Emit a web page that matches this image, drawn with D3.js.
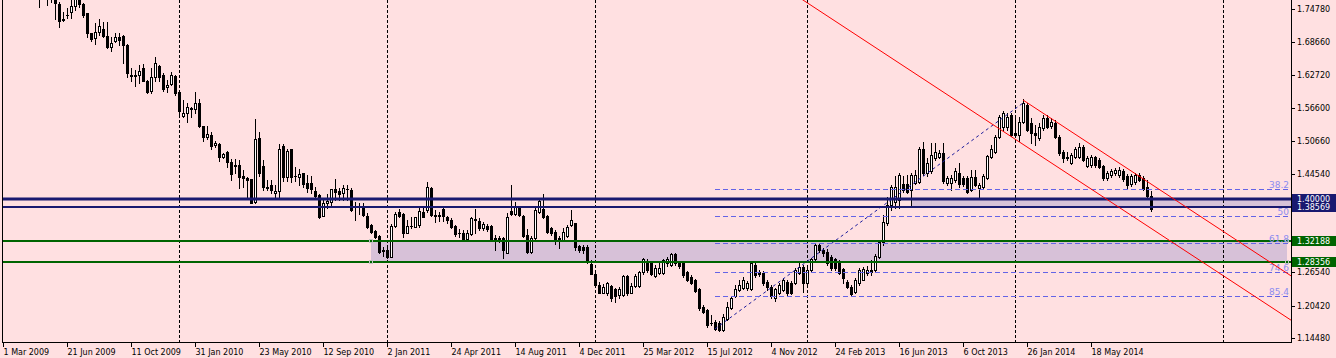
<!DOCTYPE html>
<html>
<head>
<meta charset="utf-8">
<script src="https://cdn.jsdelivr.net/npm/d3@7"></script>
<style>
  body { margin: 0; background: #ffe0e1; }
  svg { display: block; font-family: "DejaVu Sans", sans-serif; font-size: 8px; }
</style>
</head>
<body>
<script>
// weekly candles, one row per week: [open, high, low, close]
var firstWeek = "2009-03-01";

var candles2009 = [
  [1.962,1.985,1.905,1.925],[1.925,1.950,1.890,1.915],[1.915,1.935,1.860,1.880],[1.880,1.912,1.870,1.905],
  [1.905,1.925,1.880,1.890],[1.890,1.900,1.842,1.850],[1.850,1.872,1.826,1.835],[1.835,1.850,1.805,1.815],
  [1.815,1.832,1.790,1.800],[1.800,1.815,1.751,1.780],[1.780,1.800,1.768,1.790],[1.790,1.805,1.755,1.775],
  [1.775,1.790,1.761,1.770],[1.770,1.782,1.729,1.759],[1.757,1.761,1.714,1.725],[1.729,1.743,1.726,1.728],
  [1.737,1.749,1.731,1.736],[1.743,1.764,1.731,1.753],[1.753,1.772,1.746,1.766],[1.766,1.770,1.751,1.757],
  [1.757,1.759,1.734,1.737],[1.740,1.741,1.697,1.704],[1.703,1.704,1.690,1.692],[1.695,1.723,1.684,1.705],
  [1.706,1.729,1.700,1.717],[1.711,1.724,1.696,1.698],[1.698,1.724,1.676,1.679],[1.678,1.696,1.670,1.686],
  [1.690,1.703,1.688,1.696],[1.696,1.703,1.682,1.691],[1.698,1.700,1.649,1.682],[1.682,1.684,1.624,1.630],
  [1.626,1.639,1.615,1.625],[1.625,1.636,1.607,1.627],[1.626,1.645,1.612,1.634],[1.639,1.647,1.615,1.616],
  [1.615,1.618,1.593,1.596],[1.598,1.639,1.593,1.623],[1.623,1.660,1.615,1.649],[1.643,1.645,1.615,1.623],
  [1.627,1.630,1.598,1.602],[1.604,1.618,1.596,1.609],[1.610,1.633,1.609,1.626],[1.625,1.626,1.590,1.594]
];
var candles2010 = [
  [1.596,1.599,1.549,1.560],[1.552,1.581,1.549,1.557],[1.557,1.575,1.540,1.569],[1.565,1.569,1.550,1.566],
  [1.564,1.596,1.557,1.575],[1.575,1.582,1.532,1.533],[1.533,1.534,1.505,1.513],[1.513,1.533,1.509,1.518],
  [1.517,1.523,1.492,1.497],[1.498,1.505,1.495,1.503],[1.500,1.503,1.469,1.476],[1.477,1.484,1.474,1.482],
  [1.486,1.487,1.459,1.468],[1.467,1.472,1.434,1.445],[1.461,1.472,1.447,1.460],[1.461,1.471,1.419,1.440],
  [1.442,1.453,1.421,1.438],[1.438,1.439,1.404,1.434],[1.436,1.437,1.392,1.393],[1.395,1.546,1.393,1.509],
  [1.511,1.523,1.442,1.447],[1.460,1.471,1.416,1.422],[1.422,1.434,1.416,1.420],[1.425,1.434,1.410,1.416],
  [1.410,1.425,1.404,1.415],[1.415,1.500,1.404,1.492],[1.497,1.500,1.433,1.439],[1.440,1.491,1.433,1.488],
  [1.491,1.492,1.431,1.439],[1.442,1.459,1.433,1.441],[1.439,1.454,1.425,1.445],[1.447,1.448,1.422,1.427],
  [1.428,1.444,1.413,1.419],[1.428,1.442,1.410,1.417],[1.414,1.421,1.403,1.405],[1.407,1.409,1.364,1.366],
  [1.369,1.398,1.368,1.392],[1.392,1.409,1.384,1.396],[1.395,1.418,1.389,1.417],[1.417,1.436,1.398,1.413],
  [1.414,1.419,1.398,1.409],[1.410,1.425,1.398,1.419],[1.418,1.425,1.398,1.417],[1.416,1.419,1.378,1.379],
  [1.386,1.395,1.361,1.387],[1.386,1.392,1.372,1.385],[1.385,1.392,1.369,1.370],[1.368,1.374,1.346,1.349],
  [1.352,1.354,1.337,1.340],[1.341,1.343,1.328,1.330],[1.332,1.333,1.300,1.303],[1.306,1.312,1.295,1.305]
];
var candles2011 = [
  [1.306,1.312,1.291,1.294],[1.294,1.353,1.293,1.350],[1.350,1.376,1.349,1.373],[1.376,1.382,1.367,1.368],
  [1.373,1.374,1.330,1.338],[1.338,1.361,1.337,1.350],[1.350,1.367,1.346,1.351],[1.349,1.367,1.348,1.366],
  [1.352,1.385,1.349,1.378],[1.376,1.383,1.366,1.367],[1.379,1.431,1.376,1.422],[1.419,1.422,1.368,1.370],
  [1.370,1.379,1.358,1.369],[1.370,1.376,1.360,1.369],[1.382,1.384,1.360,1.368],[1.367,1.368,1.356,1.362],
  [1.362,1.364,1.346,1.349],[1.350,1.352,1.332,1.335],[1.338,1.344,1.330,1.337],[1.338,1.343,1.323,1.324],
  [1.326,1.343,1.324,1.338],[1.335,1.367,1.334,1.364],[1.362,1.382,1.337,1.363],[1.360,1.365,1.343,1.346],
  [1.346,1.357,1.343,1.353],[1.350,1.354,1.341,1.344],[1.350,1.352,1.323,1.324],[1.328,1.334,1.307,1.323],
  [1.328,1.332,1.321,1.323],[1.328,1.330,1.291,1.306],[1.301,1.374,1.300,1.366],[1.378,1.425,1.370,1.373],
  [1.373,1.395,1.370,1.385],[1.385,1.387,1.368,1.370],[1.368,1.370,1.330,1.332],[1.334,1.344,1.301,1.303],
  [1.303,1.332,1.301,1.328],[1.328,1.383,1.326,1.379],[1.376,1.399,1.374,1.396],[1.381,1.409,1.365,1.367],
  [1.368,1.370,1.337,1.340],[1.346,1.348,1.334,1.337],[1.340,1.343,1.317,1.323],[1.328,1.332,1.309,1.323],
  [1.324,1.346,1.323,1.340],[1.332,1.352,1.330,1.348],[1.352,1.379,1.350,1.362],[1.355,1.356,1.306,1.311],
  [1.313,1.315,1.302,1.307],[1.311,1.315,1.300,1.306],[1.312,1.315,1.283,1.285],[1.280,1.288,1.262,1.263]
];
var candles2012 = [
  [1.263,1.266,1.239,1.242],[1.242,1.248,1.227,1.228],[1.228,1.244,1.227,1.239],[1.228,1.248,1.224,1.246],
  [1.240,1.242,1.213,1.218],[1.234,1.236,1.211,1.221],[1.224,1.239,1.218,1.234],[1.224,1.260,1.222,1.258],
  [1.258,1.260,1.224,1.227],[1.228,1.246,1.227,1.240],[1.240,1.263,1.238,1.258],[1.240,1.268,1.238,1.266],
  [1.266,1.291,1.263,1.289],[1.286,1.289,1.266,1.269],[1.282,1.284,1.260,1.262],[1.258,1.279,1.257,1.274],
  [1.264,1.282,1.263,1.274],[1.264,1.290,1.263,1.288],[1.282,1.294,1.277,1.289],[1.279,1.301,1.277,1.299],
  [1.299,1.301,1.279,1.282],[1.283,1.286,1.273,1.277],[1.283,1.284,1.257,1.260],[1.266,1.268,1.249,1.252],
  [1.257,1.260,1.244,1.246],[1.251,1.253,1.229,1.231],[1.234,1.236,1.196,1.199],[1.202,1.205,1.191,1.193],
  [1.196,1.198,1.165,1.169],[1.173,1.187,1.169,1.172],[1.175,1.178,1.160,1.161],[1.173,1.176,1.157,1.160],
  [1.160,1.189,1.158,1.183],[1.179,1.211,1.178,1.202],[1.199,1.220,1.198,1.218],[1.222,1.242,1.220,1.234],
  [1.233,1.251,1.231,1.242],[1.236,1.257,1.235,1.252],[1.236,1.249,1.233,1.245],[1.234,1.284,1.233,1.282],
  [1.279,1.282,1.257,1.260],[1.266,1.269,1.258,1.263],[1.264,1.268,1.242,1.245],[1.248,1.251,1.233,1.238],
  [1.239,1.242,1.218,1.222],[1.219,1.236,1.213,1.234],[1.227,1.246,1.225,1.242],[1.233,1.255,1.231,1.251],
  [1.248,1.251,1.224,1.227],[1.245,1.249,1.225,1.228],[1.246,1.273,1.244,1.269],[1.264,1.282,1.263,1.275],
  [1.275,1.279,1.230,1.245]
];
var candles2013 = [
  [1.245,1.273,1.242,1.269],[1.269,1.291,1.266,1.289],[1.289,1.319,1.286,1.315],[1.315,1.319,1.302,1.306],
  [1.306,1.310,1.295,1.300],[1.303,1.308,1.279,1.282],[1.294,1.297,1.270,1.273],[1.289,1.291,1.270,1.273],
  [1.285,1.288,1.262,1.264],[1.271,1.273,1.245,1.254],[1.248,1.251,1.236,1.239],[1.239,1.242,1.221,1.225],
  [1.230,1.255,1.227,1.252],[1.245,1.273,1.242,1.269],[1.252,1.275,1.251,1.271],[1.264,1.277,1.260,1.269],
  [1.269,1.288,1.260,1.266],[1.269,1.299,1.266,1.295],[1.294,1.324,1.291,1.321],[1.321,1.370,1.315,1.358],
  [1.355,1.404,1.352,1.389],[1.389,1.425,1.379,1.422],[1.395,1.442,1.383,1.421],[1.398,1.447,1.383,1.444],
  [1.427,1.442,1.412,1.416],[1.427,1.444,1.410,1.413],[1.416,1.447,1.386,1.444],[1.429,1.453,1.427,1.444],
  [1.431,1.495,1.429,1.492],[1.492,1.504,1.444,1.447],[1.447,1.475,1.442,1.466],[1.450,1.502,1.447,1.480],
  [1.475,1.502,1.471,1.486],[1.477,1.489,1.475,1.483],[1.483,1.503,1.429,1.433],[1.428,1.442,1.425,1.438],
  [1.429,1.444,1.416,1.438],[1.434,1.456,1.431,1.450],[1.448,1.465,1.422,1.427],[1.438,1.442,1.423,1.427],
  [1.438,1.442,1.410,1.413],[1.416,1.453,1.414,1.440],[1.440,1.453,1.423,1.425],[1.419,1.429,1.404,1.425],
  [1.421,1.445,1.418,1.442],[1.438,1.480,1.436,1.478],[1.477,1.499,1.475,1.491],[1.486,1.517,1.484,1.514],
  [1.514,1.554,1.511,1.550],[1.531,1.560,1.526,1.557],[1.531,1.557,1.526,1.550],[1.554,1.557,1.515,1.517]
];
var candles2014 = [
  [1.520,1.552,1.513,1.517],[1.517,1.550,1.505,1.541],[1.541,1.582,1.539,1.575],[1.572,1.575,1.524,1.526],
  [1.538,1.548,1.502,1.520],[1.520,1.535,1.499,1.517],[1.511,1.538,1.508,1.532],[1.529,1.554,1.526,1.548],
  [1.548,1.554,1.530,1.532],[1.533,1.548,1.530,1.541],[1.538,1.544,1.511,1.514],[1.514,1.517,1.480,1.483],
  [1.486,1.489,1.468,1.474],[1.477,1.486,1.471,1.474],[1.466,1.484,1.464,1.480],[1.477,1.495,1.475,1.492],
  [1.477,1.502,1.475,1.495],[1.495,1.499,1.469,1.471],[1.460,1.478,1.458,1.474],[1.462,1.480,1.458,1.477],
  [1.476,1.478,1.458,1.462],[1.471,1.475,1.456,1.459],[1.460,1.462,1.434,1.438],[1.438,1.451,1.434,1.447],
  [1.444,1.455,1.440,1.450],[1.447,1.456,1.444,1.453],[1.444,1.458,1.440,1.453],[1.450,1.455,1.433,1.436],
  [1.442,1.445,1.419,1.425],[1.427,1.445,1.423,1.442],[1.430,1.447,1.427,1.444],[1.444,1.447,1.433,1.434],
  [1.438,1.442,1.416,1.417],[1.422,1.434,1.403,1.405],[1.405,1.414,1.378,1.381]
];

// axis labels
var priceTicks = [1.7478, 1.6866, 1.6272, 1.5660, 1.5066, 1.4454, 1.3860, 1.3248, 1.2654, 1.2042, 1.1448];
var dateTicks = ["2009-03-01","2009-06-21","2009-10-11","2010-01-31","2010-05-23","2010-09-12",
  "2011-01-02","2011-04-24","2011-08-14","2011-12-04","2012-03-25","2012-07-15","2012-11-04",
  "2013-02-24","2013-06-16","2013-10-06","2014-01-26","2014-05-18"];

// drawn objects
var blueLevels = [1.40000, 1.38569];
var greenLevels = [1.32188, 1.28356];
var blueZone = ["2013-07-07", 1.40000, 1.38569];
var greenZone = ["2010-12-05", "2015-04-26", 1.32188, 1.28356];
var fibLevels = [38.2, 50, 61.8, 74.6, 85.4];
var fibLow = ["2012-07-29", 1.1615];
var fibHigh = ["2014-01-19", 1.5755];
var channelUpper = [["2014-01-19", 1.5810], ["2014-06-08", 1.4848]];
var channelLower = [["2012-11-25", 1.7883], ["2013-12-15", 1.5238]];

var W = 1336, H = 358;
var pLeft = 3, pRight = 1291, pTop = 0, pBottom = 342;

var parse = d3.utcParse("%Y-%m-%d");
var start = parse(firstWeek);

var candles = [].concat(candles2009, candles2010, candles2011, candles2012, candles2013, candles2014)
  .map(function (d, i) {
    return { date: d3.utcDay.offset(start, 7 * i), o: d[0], h: d[1], l: d[2], c: d[3] };
  });

// 4 px per weekly bar
var xScale = d3.scaleUtc()
  .domain([start, d3.utcDay.offset(start, 7 * 322)])
  .range([pLeft, pLeft + 4 * 322]);
var yScale = d3.scaleLinear().domain([1.1375, 1.7643]).range([pBottom, pTop]);

var svg = d3.select("body").append("svg")
  .attr("width", W)
  .attr("height", H);

svg.append("rect").attr("width", W).attr("height", H).attr("fill", "#ffe0e1");

svg.append("defs").append("clipPath").attr("id", "plot")
  .append("rect")
  .attr("x", pLeft).attr("y", pTop)
  .attr("width", pRight - pLeft).attr("height", pBottom - pTop);

var plot = svg.append("g").attr("clip-path", "url(#plot)");

// zones (background objects)
var zoneFill = "#d7c1d8";
var bx0 = Math.round(xScale(parse(blueZone[0])));
plot.append("rect")
  .attr("x", bx0)
  .attr("y", Math.round(yScale(blueZone[1])))
  .attr("width", pRight - bx0)
  .attr("height", Math.round(yScale(blueZone[2])) - Math.round(yScale(blueZone[1])))
  .attr("fill", zoneFill);

var gx0 = Math.round(xScale(parse(greenZone[0]))),
    gx1 = Math.round(xScale(parse(greenZone[1]))),
    gy0 = Math.round(yScale(greenZone[2])),
    gy1 = Math.round(yScale(greenZone[3]));
plot.append("rect")
  .attr("x", gx0).attr("y", gy0)
  .attr("width", gx1 - gx0).attr("height", gy1 - gy0)
  .attr("fill", zoneFill);

// yearly grid
var years = d3.range(2010, 2016).map(function (yr) { return d3.utcSunday.ceil(new Date(Date.UTC(yr, 0, 1))); });
plot.selectAll(".grid")
  .data(years)
  .enter().append("line")
  .attr("class", "grid")
  .attr("x1", d => Math.round(xScale(d)) + 0.5)
  .attr("x2", d => Math.round(xScale(d)) + 0.5)
  .attr("y1", pTop).attr("y2", pBottom)
  .attr("stroke", "#000")
  .attr("stroke-dasharray", "3,2");

// candles
var cg = plot.append("g");
cg.selectAll(".wick")
  .data(candles)
  .enter().append("line")
  .attr("class", "wick")
  .attr("x1", d => Math.round(xScale(d.date)) + 0.5)
  .attr("x2", d => Math.round(xScale(d.date)) + 0.5)
  .attr("y1", d => Math.round(yScale(d.h)))
  .attr("y2", d => Math.round(yScale(d.l)) + 1)
  .attr("stroke", "#000");

candles.forEach(function (d) {
  var col = Math.round(xScale(d.date));
  var yt = Math.round(yScale(Math.max(d.o, d.c))),
      yb = Math.round(yScale(Math.min(d.o, d.c)));
  var h = yb - yt;
  if (h < 1) {
    cg.append("rect").attr("x", col - 1).attr("y", yt).attr("width", 3).attr("height", 1).attr("fill", "#000");
  } else if (d.c < d.o) {
    cg.append("rect").attr("x", col - 1).attr("y", yt).attr("width", 3).attr("height", h + 1).attr("fill", "#000");
  } else {
    cg.append("rect").attr("x", col - 0.5).attr("y", yt + 0.5).attr("width", 2).attr("height", h)
      .attr("fill", "#fff").attr("stroke", "#000");
  }
});

// horizontal levels
blueLevels.forEach(function (v, i) {
  plot.append("line")
    .attr("x1", pLeft).attr("x2", pRight)
    .attr("y1", Math.round(yScale(v))).attr("y2", Math.round(yScale(v)))
    .attr("stroke", "#191970")
    .attr("stroke-width", i === 0 ? 3 : 2);
});
greenLevels.forEach(function (v) {
  plot.append("line")
    .attr("x1", pLeft).attr("x2", pRight)
    .attr("y1", Math.round(yScale(v))).attr("y2", Math.round(yScale(v)))
    .attr("stroke", "#006400")
    .attr("stroke-width", 2);
});

// zone corner handles
[[gx0, gy0], [gx0, gy1], [gx1, gy0], [gx1, gy1]].forEach(function (p) {
  plot.append("rect")
    .attr("x", p[0] - 1.5).attr("y", p[1] - 1.5)
    .attr("width", 3).attr("height", 3)
    .attr("fill", "none").attr("stroke", "#c4c4c4");
});

// fibonacci
var fx0 = xScale(parse(fibLow[0])), fx1 = xScale(parse(fibHigh[0]));
plot.append("line")
  .attr("x1", fx0).attr("y1", yScale(fibLow[1]))
  .attr("x2", fx1).attr("y2", yScale(fibHigh[1]))
  .attr("stroke", "#1c1c9c")
  .attr("stroke-dasharray", "3,3");

var fibRange = fibHigh[1] - fibLow[1];
fibLevels.forEach(function (lv) {
  var fy = Math.round(yScale(fibHigh[1] - fibRange * lv / 100)) + 0.5;
  plot.append("line")
    .attr("x1", Math.round(fx0)).attr("x2", pRight)
    .attr("y1", fy).attr("y2", fy)
    .attr("stroke", "#6464e6")
    .attr("stroke-dasharray", "5,3");
  plot.append("text")
    .attr("x", pRight - 2).attr("y", fy - 2)
    .attr("text-anchor", "end")
    .attr("fill", "#8c8cf0")
    .attr("font-size", "9px")
    .text(lv);
});

// channel rays
function ray(pts) {
  var t0 = parse(pts[0][0]).getTime(), t1 = parse(pts[1][0]).getTime();
  var slope = (pts[1][1] - pts[0][1]) / (t1 - t0);
  var tEnd = xScale.invert(pRight).getTime();
  plot.append("line")
    .attr("x1", xScale(new Date(t0))).attr("y1", yScale(pts[0][1]))
    .attr("x2", pRight).attr("y2", yScale(pts[0][1] + slope * (tEnd - t0)))
    .attr("stroke", "#ff0000")
    .attr("stroke-width", 1);
}
ray(channelUpper);
ray(channelLower);

// frame
svg.append("line").attr("x1", 2.5).attr("x2", 2.5).attr("y1", 0).attr("y2", pBottom + 1).attr("stroke", "#000");
svg.append("line").attr("x1", pRight + 0.5).attr("x2", pRight + 0.5).attr("y1", 0).attr("y2", pBottom + 1).attr("stroke", "#000");
svg.append("line").attr("x1", 2).attr("x2", pRight + 1).attr("y1", pBottom + 0.5).attr("y2", pBottom + 0.5).attr("stroke", "#000");

// price axis
var fmt = d3.format(".5f");
var pa = svg.append("g");
priceTicks.forEach(function (v) {
  var ty = Math.round(yScale(v)) + 0.5;
  pa.append("line").attr("x1", pRight + 1).attr("x2", pRight + 4).attr("y1", ty).attr("y2", ty).attr("stroke", "#000");
  pa.append("text").attr("x", pRight + 6).attr("y", ty).attr("dy", "0.35em").attr("fill", "#000").text(fmt(v));
});

// price label boxes
function priceBox(v, color) {
  var by = Math.round(yScale(v));
  pa.append("rect").attr("x", pRight + 1).attr("y", by - 5).attr("width", W - pRight - 1).attr("height", 10).attr("fill", color);
  pa.append("text").attr("x", pRight + 6).attr("y", by).attr("dy", "0.35em").attr("fill", "#fff").text(fmt(v));
}
blueLevels.forEach(function (v) { priceBox(v, "#191970"); });
greenLevels.forEach(function (v) { priceBox(v, "#006400"); });

// date axis
var dfmt = d3.utcFormat("%-d %b %Y");
var da = svg.append("g");
dateTicks.forEach(function (s) {
  var tx = Math.round(xScale(parse(s))) + 0.5;
  da.append("line").attr("x1", tx).attr("x2", tx).attr("y1", pBottom + 1).attr("y2", pBottom + 5).attr("stroke", "#000");
  da.append("text").attr("x", tx).attr("y", 355).attr("fill", "#000").text(dfmt(parse(s)));
});
</script>
</body>
</html>
